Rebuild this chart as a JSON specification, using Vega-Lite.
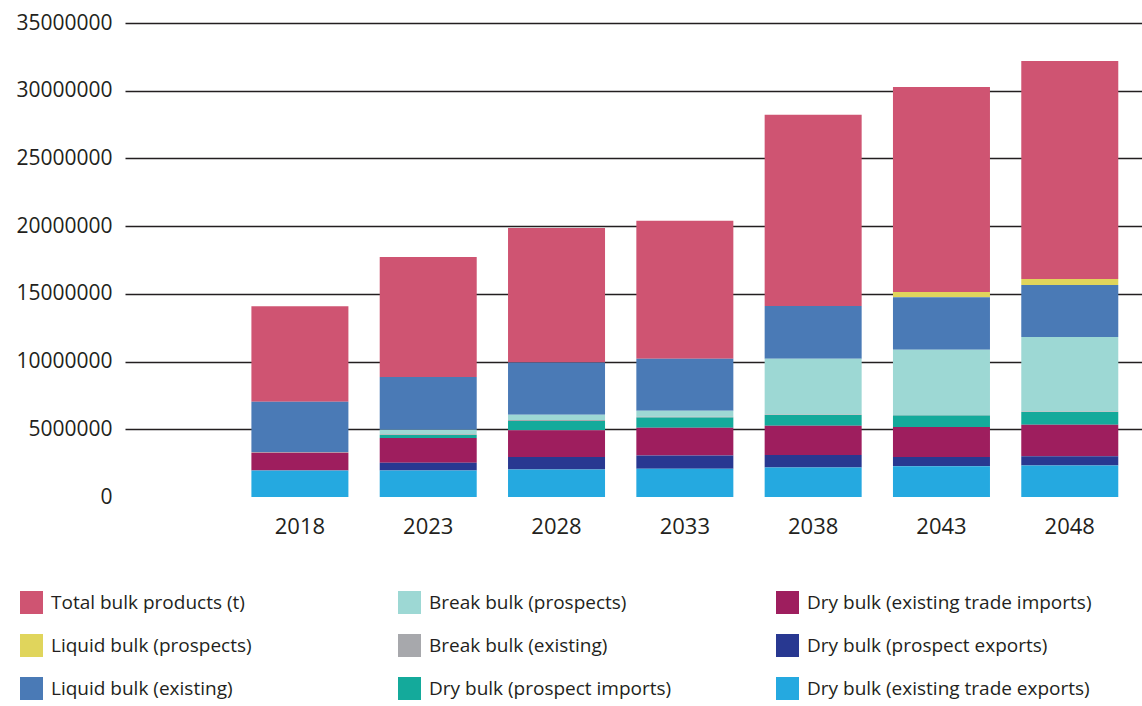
{
  "$schema": "https://vega.github.io/schema/vega-lite/v6.json",
  "autosize": "none",
  "width": 1017,
  "height": 474,
  "padding": {"left": 125, "top": 23, "right": 0, "bottom": 209},
  "background": "white",
  "config": {
    "view": {"stroke": null},
    "font": "Open Sans",
    "axis": {"labelFont": "Open Sans", "labelColor": "#231F20"},
    "legend": {"labelFont": "Open Sans", "labelColor": "#231F20"}
  },
  "data": {
    "values": [
      {"year": "2018", "type": "Total bulk products (t)", "t": 7040000},
      {"year": "2018", "type": "Liquid bulk (existing)", "t": 3720000},
      {"year": "2018", "type": "Break bulk (existing)", "t": 60000},
      {"year": "2018", "type": "Dry bulk (existing trade imports)", "t": 1310000},
      {"year": "2018", "type": "Dry bulk (existing trade exports)", "t": 1950000},

      {"year": "2023", "type": "Total bulk products (t)", "t": 8860000},
      {"year": "2023", "type": "Liquid bulk (existing)", "t": 3890000},
      {"year": "2023", "type": "Break bulk (prospects)", "t": 330000},
      {"year": "2023", "type": "Break bulk (existing)", "t": 60000},
      {"year": "2023", "type": "Dry bulk (prospect imports)", "t": 220000},
      {"year": "2023", "type": "Dry bulk (existing trade imports)", "t": 1840000},
      {"year": "2023", "type": "Dry bulk (prospect exports)", "t": 570000},
      {"year": "2023", "type": "Dry bulk (existing trade exports)", "t": 1950000},

      {"year": "2028", "type": "Total bulk products (t)", "t": 9930000},
      {"year": "2028", "type": "Liquid bulk (existing)", "t": 3850000},
      {"year": "2028", "type": "Break bulk (prospects)", "t": 400000},
      {"year": "2028", "type": "Break bulk (existing)", "t": 60000},
      {"year": "2028", "type": "Dry bulk (prospect imports)", "t": 700000},
      {"year": "2028", "type": "Dry bulk (existing trade imports)", "t": 1960000},
      {"year": "2028", "type": "Dry bulk (prospect exports)", "t": 930000},
      {"year": "2028", "type": "Dry bulk (existing trade exports)", "t": 2030000},

      {"year": "2033", "type": "Total bulk products (t)", "t": 10200000},
      {"year": "2033", "type": "Liquid bulk (existing)", "t": 3830000},
      {"year": "2033", "type": "Break bulk (prospects)", "t": 440000},
      {"year": "2033", "type": "Break bulk (existing)", "t": 60000},
      {"year": "2033", "type": "Dry bulk (prospect imports)", "t": 750000},
      {"year": "2033", "type": "Dry bulk (existing trade imports)", "t": 2060000},
      {"year": "2033", "type": "Dry bulk (prospect exports)", "t": 980000},
      {"year": "2033", "type": "Dry bulk (existing trade exports)", "t": 2080000},

      {"year": "2038", "type": "Total bulk products (t)", "t": 14110000},
      {"year": "2038", "type": "Liquid bulk (existing)", "t": 3900000},
      {"year": "2038", "type": "Break bulk (prospects)", "t": 4110000},
      {"year": "2038", "type": "Break bulk (existing)", "t": 50000},
      {"year": "2038", "type": "Dry bulk (prospect imports)", "t": 780000},
      {"year": "2038", "type": "Dry bulk (existing trade imports)", "t": 2160000},
      {"year": "2038", "type": "Dry bulk (prospect exports)", "t": 940000},
      {"year": "2038", "type": "Dry bulk (existing trade exports)", "t": 2170000},

      {"year": "2043", "type": "Total bulk products (t)", "t": 15140000},
      {"year": "2043", "type": "Liquid bulk (prospects)", "t": 390000},
      {"year": "2043", "type": "Liquid bulk (existing)", "t": 3880000},
      {"year": "2043", "type": "Break bulk (prospects)", "t": 4810000},
      {"year": "2043", "type": "Break bulk (existing)", "t": 50000},
      {"year": "2043", "type": "Dry bulk (prospect imports)", "t": 840000},
      {"year": "2043", "type": "Dry bulk (existing trade imports)", "t": 2210000},
      {"year": "2043", "type": "Dry bulk (prospect exports)", "t": 690000},
      {"year": "2043", "type": "Dry bulk (existing trade exports)", "t": 2270000},

      {"year": "2048", "type": "Total bulk products (t)", "t": 16100000},
      {"year": "2048", "type": "Liquid bulk (prospects)", "t": 440000},
      {"year": "2048", "type": "Liquid bulk (existing)", "t": 3850000},
      {"year": "2048", "type": "Break bulk (prospects)", "t": 5490000},
      {"year": "2048", "type": "Break bulk (existing)", "t": 50000},
      {"year": "2048", "type": "Dry bulk (prospect imports)", "t": 930000},
      {"year": "2048", "type": "Dry bulk (existing trade imports)", "t": 2330000},
      {"year": "2048", "type": "Dry bulk (prospect exports)", "t": 690000},
      {"year": "2048", "type": "Dry bulk (existing trade exports)", "t": 2320000}
    ]
  },
  "transform": [
    {"window": [{"op": "row_number", "as": "row"}]}
  ],
  "mark": {"type": "bar"},
  "encoding": {
    "x": {
      "field": "year",
      "type": "nominal",
      "scale": {"type": "band", "paddingInner": 0.244, "paddingOuter": 0.585, "align": 0.842},
      "axis": {
        "title": null,
        "labelAngle": 0,
        "domain": false,
        "ticks": false,
        "labelFontSize": 22,
        "labelPadding": 19
      }
    },
    "y": {
      "field": "t",
      "type": "quantitative",
      "stack": "zero",
      "scale": {"domain": [0, 35000000], "nice": false},
      "axis": {
        "title": null,
        "values": [0, 5000000, 10000000, 15000000, 20000000, 25000000, 30000000, 35000000],
        "format": "d",
        "domain": false,
        "ticks": false,
        "labelFontSize": 21,
        "labelPadding": 13,
        "grid": true,
        "gridColor": "#231F20",
        "gridWidth": 1.5,
        "gridOpacity": {"condition": {"test": "datum.value === 0", "value": 0}, "value": 1}
      }
    },
    "order": {"field": "row", "type": "quantitative", "sort": "descending"},
    "color": {
      "field": "type",
      "type": "nominal",
      "scale": {
        "domain": [
          "Total bulk products (t)",
          "Break bulk (prospects)",
          "Dry bulk (existing trade imports)",
          "Liquid bulk (prospects)",
          "Break bulk (existing)",
          "Dry bulk (prospect exports)",
          "Liquid bulk (existing)",
          "Dry bulk (prospect imports)",
          "Dry bulk (existing trade exports)"
        ],
        "range": [
          "#CF5472",
          "#9DD8D4",
          "#9E1E5E",
          "#E0D55C",
          "#A7A8AC",
          "#283891",
          "#4A7AB6",
          "#14AA9B",
          "#25A9E0"
        ]
      },
      "legend": {
        "title": null,
        "orient": "none",
        "legendX": -105,
        "legendY": 568,
        "direction": "horizontal",
        "columns": 3,
        "gridAlign": "all",
        "columnPadding": 62,
        "rowPadding": 20,
        "symbolType": "square",
        "symbolSize": 529,
        "symbolStrokeWidth": 0,
        "symbolOpacity": 1,
        "labelFontSize": 19,
        "labelOffset": 8,
        "labelLimit": 400
      }
    }
  }
}
